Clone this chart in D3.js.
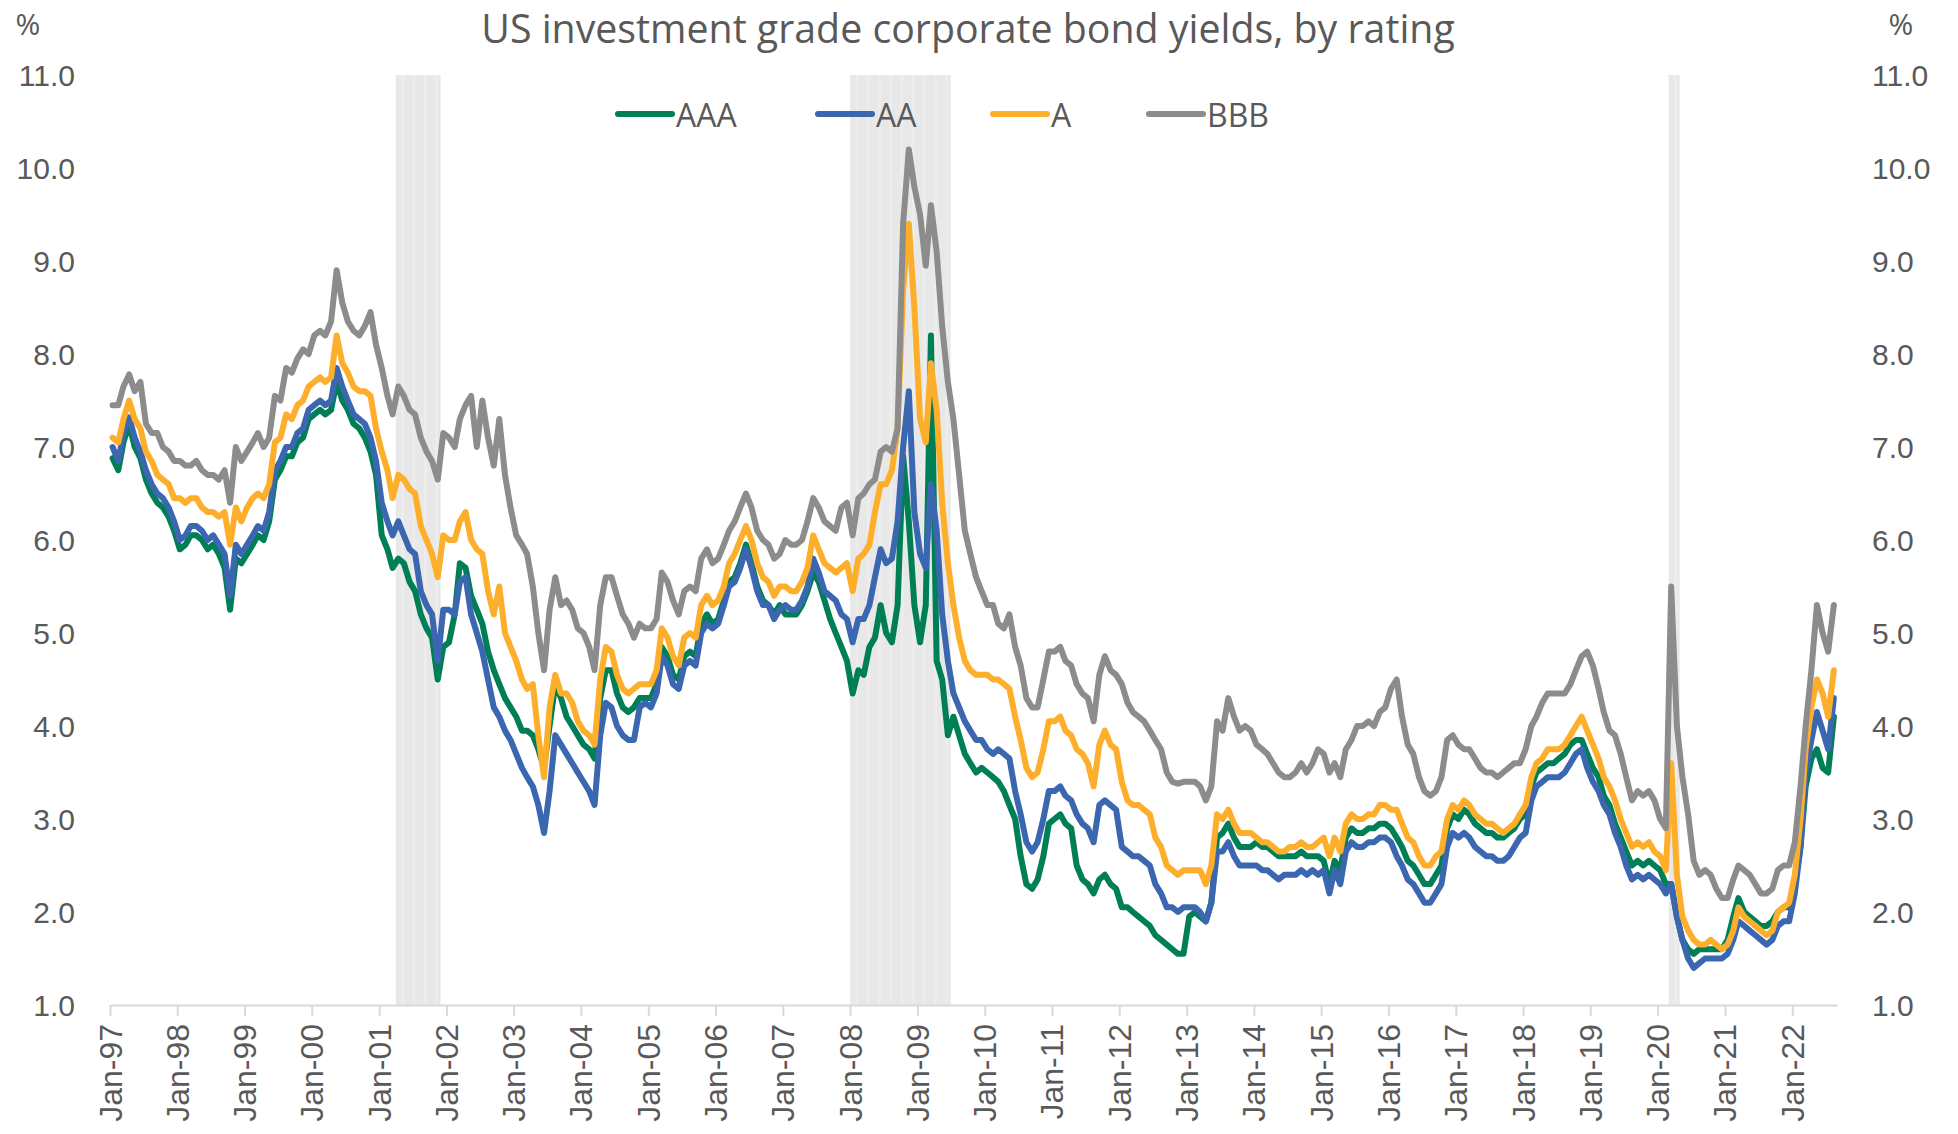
<!DOCTYPE html>
<html><head><meta charset="utf-8">
<script src="https://cdn.jsdelivr.net/npm/d3@7"></script>
<style>html,body{margin:0;padding:0;background:#fff;} svg{display:block;font-family:"Open Sans","Noto Sans",sans-serif;}</style>
</head><body><svg id="chart" width="1958" height="1134"></svg>
<script>
// ---------------- data ----------------
const titleText = "US investment grade corporate bond yields, by rating";
const firstMonth = "1997-01";           // monthly observations, Jan 1997 .. Aug 2022
const seriesNames = ["AAA", "AA", "A", "BBB"];
const yTicks = [1, 2, 3, 4, 5, 6, 7, 8, 9, 10, 11];
const xTickYears = [1997,1998,1999,2000,2001,2002,2003,2004,2005,2006,2007,2008,2009,2010,2011,2012,2013,2014,2015,2016,2017,2018,2019,2020,2021,2022];
const recessions = [["2001-04-01","2001-11-30"],["2008-01-01","2009-06-30"],["2020-03-01","2020-04-30"]];

const aaa = [
6.88,6.75,7.05,7.25,7.0,6.88,6.65,6.5,6.4,6.35,6.25,6.1,
5.9,5.95,6.05,6.05,6.0,5.9,5.95,5.85,5.7,5.25,5.8,5.75,
5.85,5.95,6.05,6.0,6.2,6.65,6.75,6.9,6.9,7.05,7.1,7.3,
7.35,7.4,7.35,7.4,7.7,7.5,7.4,7.25,7.2,7.1,6.95,6.7,
6.05,5.9,5.7,5.8,5.75,5.55,5.45,5.2,5.05,4.95,4.5,4.85,
4.9,5.2,5.75,5.7,5.4,5.25,5.1,4.8,4.6,4.45,4.3,4.2,
4.1,3.95,3.95,3.9,3.75,3.55,4.0,4.45,4.3,4.1,4.0,3.9,
3.8,3.75,3.65,4.3,4.6,4.6,4.35,4.2,4.15,4.2,4.3,4.3,
4.3,4.45,4.85,4.75,4.55,4.5,4.75,4.8,4.75,5.1,5.2,5.1,
5.15,5.35,5.55,5.6,5.75,5.95,5.75,5.5,5.35,5.3,5.2,5.3,
5.2,5.2,5.2,5.3,5.45,5.65,5.55,5.35,5.15,5.0,4.85,4.7,
4.35,4.6,4.55,4.85,4.95,5.3,5.0,4.9,5.3,6.9,6.2,5.3,
4.9,5.3,8.2,4.7,4.5,3.9,4.1,3.9,3.7,3.6,3.5,3.55,
3.5,3.45,3.4,3.3,3.15,3.0,2.6,2.3,2.25,2.35,2.6,2.95,
3.0,3.05,2.95,2.9,2.5,2.35,2.3,2.2,2.35,2.4,2.3,2.25,
2.05,2.05,2.0,1.95,1.9,1.85,1.75,1.7,1.65,1.6,1.55,1.55,
1.95,2.0,1.95,1.9,2.1,2.8,2.85,2.95,2.8,2.7,2.7,2.7,
2.75,2.7,2.7,2.65,2.6,2.6,2.6,2.6,2.65,2.6,2.6,2.6,
2.55,2.3,2.55,2.45,2.8,2.9,2.85,2.85,2.9,2.9,2.95,2.95,
2.9,2.8,2.7,2.55,2.5,2.4,2.3,2.3,2.4,2.5,2.9,3.05,
3.0,3.1,3.05,2.95,2.9,2.85,2.85,2.8,2.8,2.85,2.9,3.0,
3.05,3.35,3.5,3.55,3.6,3.6,3.65,3.7,3.8,3.85,3.85,3.7,
3.55,3.45,3.25,3.15,2.95,2.8,2.65,2.5,2.55,2.5,2.55,2.5,
2.45,2.3,2.3,1.95,1.7,1.6,1.55,1.6,1.6,1.6,1.6,1.6,
1.7,1.95,2.15,2.0,1.95,1.9,1.85,1.85,1.9,2.0,2.05,2.05,
2.3,2.7,3.35,3.65,3.75,3.55,3.5,4.1];

const aa = [
7.0,6.85,7.15,7.32,7.1,6.95,6.75,6.6,6.5,6.45,6.35,6.2,
6.0,6.05,6.15,6.15,6.1,6.0,6.05,5.95,5.85,5.4,5.95,5.85,
5.95,6.05,6.15,6.1,6.3,6.75,6.85,7.0,7.0,7.15,7.2,7.4,
7.45,7.5,7.45,7.5,7.85,7.65,7.5,7.35,7.3,7.25,7.1,6.85,
6.4,6.2,6.05,6.2,6.05,5.9,5.85,5.45,5.3,5.2,4.7,5.25,
5.25,5.2,5.55,5.6,5.2,5.0,4.8,4.5,4.2,4.1,3.95,3.85,
3.7,3.55,3.45,3.35,3.15,2.85,3.3,3.9,3.8,3.7,3.6,3.5,
3.4,3.3,3.15,3.9,4.25,4.2,4.0,3.9,3.85,3.85,4.2,4.25,
4.2,4.35,4.75,4.65,4.45,4.4,4.65,4.7,4.65,5.0,5.1,5.05,
5.1,5.3,5.5,5.55,5.7,5.9,5.7,5.45,5.3,5.3,5.15,5.25,
5.3,5.25,5.25,5.35,5.5,5.8,5.65,5.45,5.4,5.35,5.2,5.15,
4.9,5.15,5.15,5.3,5.6,5.9,5.75,5.8,6.2,7.0,7.6,6.3,
5.85,5.7,6.6,6.1,5.2,4.7,4.35,4.2,4.05,3.95,3.85,3.85,
3.75,3.7,3.75,3.7,3.65,3.3,3.05,2.75,2.65,2.75,3.0,3.3,
3.3,3.35,3.25,3.2,3.05,2.95,2.9,2.75,3.15,3.2,3.15,3.1,
2.7,2.65,2.6,2.6,2.55,2.5,2.3,2.2,2.05,2.05,2.0,2.05,
2.05,2.05,2.0,1.9,2.1,2.65,2.65,2.75,2.6,2.5,2.5,2.5,
2.5,2.45,2.45,2.4,2.35,2.4,2.4,2.4,2.45,2.4,2.45,2.4,
2.45,2.2,2.45,2.3,2.65,2.75,2.7,2.7,2.75,2.75,2.8,2.8,
2.75,2.6,2.5,2.35,2.3,2.2,2.1,2.1,2.2,2.3,2.7,2.85,
2.8,2.85,2.8,2.7,2.65,2.6,2.6,2.55,2.55,2.6,2.7,2.8,
2.85,3.2,3.35,3.4,3.45,3.45,3.45,3.5,3.6,3.7,3.75,3.55,
3.4,3.3,3.15,3.05,2.85,2.7,2.5,2.35,2.4,2.35,2.4,2.35,
2.3,2.2,2.3,1.95,1.7,1.5,1.4,1.45,1.5,1.5,1.5,1.5,
1.55,1.7,1.9,1.85,1.8,1.75,1.7,1.65,1.7,1.85,1.9,1.9,
2.2,2.7,3.5,3.85,4.15,3.95,3.75,4.3];

const singleA = [
7.1,7.05,7.3,7.5,7.3,7.2,6.95,6.85,6.7,6.65,6.6,6.45,
6.45,6.4,6.45,6.45,6.35,6.3,6.3,6.25,6.3,5.95,6.35,6.2,
6.35,6.45,6.5,6.45,6.6,7.05,7.1,7.35,7.3,7.45,7.5,7.65,
7.7,7.75,7.7,7.75,8.2,7.9,7.8,7.65,7.6,7.6,7.55,7.2,
6.95,6.75,6.45,6.7,6.65,6.55,6.5,6.15,6.0,5.85,5.6,6.05,
6.0,6.0,6.2,6.3,6.0,5.9,5.85,5.45,5.2,5.5,5.0,4.85,
4.7,4.5,4.4,4.45,3.9,3.45,4.2,4.55,4.35,4.35,4.25,4.05,
3.95,3.9,3.8,4.5,4.85,4.8,4.55,4.4,4.35,4.4,4.45,4.45,
4.45,4.6,5.05,4.95,4.75,4.65,4.95,5.0,4.95,5.3,5.4,5.3,
5.35,5.5,5.75,5.85,6.0,6.15,6.0,5.75,5.6,5.55,5.4,5.5,
5.5,5.45,5.45,5.55,5.7,6.05,5.9,5.75,5.7,5.65,5.7,5.75,
5.45,5.8,5.85,5.95,6.3,6.6,6.6,6.75,7.2,8.7,9.4,8.5,
7.3,7.05,7.9,7.4,6.4,5.75,5.3,4.95,4.7,4.6,4.55,4.55,
4.55,4.5,4.5,4.45,4.4,4.1,3.85,3.55,3.45,3.5,3.75,4.05,
4.05,4.1,3.95,3.9,3.75,3.7,3.6,3.35,3.8,3.95,3.8,3.75,
3.4,3.2,3.15,3.15,3.1,3.05,2.8,2.7,2.5,2.45,2.4,2.45,
2.45,2.45,2.45,2.3,2.5,3.05,3.0,3.1,2.95,2.85,2.85,2.85,
2.8,2.75,2.75,2.7,2.65,2.65,2.7,2.7,2.75,2.7,2.7,2.75,
2.8,2.6,2.8,2.65,2.95,3.05,3.0,3.0,3.05,3.05,3.15,3.15,
3.1,3.1,2.95,2.8,2.75,2.6,2.5,2.5,2.6,2.65,3.0,3.15,
3.1,3.2,3.15,3.05,3.0,2.95,2.95,2.9,2.85,2.9,2.95,3.05,
3.15,3.45,3.6,3.65,3.75,3.75,3.75,3.8,3.9,4.0,4.1,3.95,
3.8,3.65,3.45,3.35,3.2,3.0,2.85,2.7,2.75,2.7,2.75,2.65,
2.6,2.45,3.6,2.4,1.95,1.8,1.7,1.65,1.65,1.7,1.65,1.6,
1.65,1.8,2.05,1.95,1.9,1.85,1.8,1.75,1.8,2.0,2.05,2.1,
2.4,3.0,3.75,4.2,4.5,4.35,4.1,4.6];

const bbb = [
7.45,7.45,7.65,7.78,7.6,7.7,7.25,7.15,7.15,7.0,6.95,6.85,
6.85,6.8,6.8,6.85,6.75,6.7,6.7,6.65,6.75,6.4,7.0,6.85,
6.95,7.05,7.15,7.0,7.1,7.55,7.5,7.85,7.8,7.95,8.05,8.0,
8.2,8.25,8.2,8.35,8.9,8.55,8.35,8.25,8.2,8.3,8.45,8.1,
7.85,7.55,7.35,7.65,7.55,7.4,7.35,7.1,6.95,6.85,6.65,7.15,
7.1,7.0,7.3,7.45,7.55,7.0,7.5,7.1,6.8,7.3,6.7,6.35,
6.05,5.95,5.85,5.5,5.0,4.6,5.25,5.6,5.3,5.35,5.25,5.05,
5.0,4.85,4.6,5.3,5.6,5.6,5.4,5.2,5.1,4.95,5.1,5.05,
5.05,5.15,5.65,5.55,5.35,5.2,5.45,5.5,5.45,5.8,5.9,5.75,
5.8,5.95,6.1,6.2,6.35,6.5,6.35,6.1,6.0,5.95,5.8,5.85,
6.0,5.95,5.95,6.0,6.2,6.45,6.35,6.2,6.15,6.1,6.35,6.4,
6.05,6.45,6.5,6.6,6.65,6.95,7.0,6.95,7.2,9.4,10.2,9.8,
9.5,8.95,9.6,9.1,8.3,7.7,7.3,6.7,6.1,5.85,5.6,5.45,
5.3,5.3,5.1,5.05,5.2,4.85,4.65,4.3,4.2,4.2,4.5,4.8,
4.8,4.85,4.7,4.65,4.45,4.35,4.3,4.05,4.55,4.75,4.6,4.55,
4.45,4.25,4.15,4.1,4.05,3.95,3.85,3.75,3.5,3.4,3.38,3.4,
3.4,3.4,3.35,3.2,3.35,4.05,3.95,4.3,4.1,3.95,4.0,3.95,
3.8,3.75,3.7,3.6,3.5,3.45,3.45,3.5,3.6,3.5,3.6,3.75,
3.7,3.5,3.6,3.45,3.75,3.85,4.0,4.0,4.05,4.0,4.15,4.2,
4.4,4.5,4.1,3.8,3.7,3.45,3.3,3.25,3.3,3.45,3.85,3.9,
3.8,3.75,3.75,3.65,3.55,3.5,3.5,3.45,3.5,3.55,3.6,3.6,
3.75,4.0,4.1,4.25,4.35,4.35,4.35,4.35,4.45,4.6,4.75,4.8,
4.65,4.4,4.15,3.95,3.9,3.7,3.45,3.2,3.3,3.25,3.3,3.2,
3.0,2.9,5.5,4.0,3.45,3.05,2.55,2.4,2.45,2.4,2.25,2.15,
2.15,2.35,2.5,2.45,2.4,2.3,2.2,2.2,2.25,2.45,2.5,2.5,
2.75,3.35,4.0,4.6,5.3,5.0,4.8,5.3];

const seriesValues = [aaa, aa, singleA, bbb];
const seriesColors = ["#007F57", "#3B66B0", "#FDAF2C", "#8C8C8C"];

// ---------------- layout ----------------
const plot = {left: 110, right: 1837, top: 75, bottom: 1005};
const textColor = "#595959";
const svg = d3.select("#chart");

const parseDay = d3.utcParse("%Y-%m-%d");
const start = d3.utcParse("%Y-%m")(firstMonth);
const months = d3.range(aaa.length).map(i => d3.utcDay.offset(d3.utcMonth.offset(start, i), 14));

const x = d3.scaleUtc().domain([parseDay("1997-01-01"), parseDay("2022-09-01")]).range([plot.left, plot.right]);
const y = d3.scaleLinear().domain([1, 11]).range([plot.bottom, plot.top]);

// recession shading
const rec = svg.append("g");
recessions.forEach(r => {
  const x0 = x(parseDay(r[0])), x1 = x(parseDay(r[1]));
  rec.append("rect").attr("x", x0).attr("y", y(11)).attr("width", x1 - x0).attr("height", y(1) - y(11)).attr("fill", "#e8e8e8");
  d3.utcMonth.range(parseDay(r[0]), parseDay(r[1])).forEach((m, i) => {
    if (i % 2 === 1) {
      const a = x(m), b = x(d3.utcMonth.offset(m, 1));
      rec.append("rect").attr("x", a).attr("y", y(11)).attr("width", Math.max(0, (b - a) * 0.5)).attr("height", y(1) - y(11)).attr("fill", "#ededed");
    }
  });
});

// x axis
const xAxis = d3.axisBottom(x)
  .tickValues(xTickYears.map(yy => new Date(Date.UTC(yy, 0, 1))))
  .tickFormat(d3.utcFormat("Jan-%y"))
  .tickSize(11).tickSizeOuter(0);
const gx = svg.append("g").attr("transform", `translate(0,${plot.bottom})`).call(xAxis);
gx.select(".domain").attr("stroke", "#d9d9d9").attr("stroke-width", 2);
gx.selectAll(".tick line").attr("stroke", "#d9d9d9").attr("stroke-width", 2);
gx.selectAll(".tick text")
  .attr("fill", textColor).attr("font-size", 32)
  .attr("text-anchor", "end")
  .attr("dominant-baseline", "central")
  .attr("transform", "rotate(-90)")
  .attr("x", -19).attr("y", 0).attr("dy", null);

// y axes (labels only)
const yl = d3.axisLeft(y).tickValues(yTicks).tickFormat(d3.format(".1f")).tickSize(0);
const gyl = svg.append("g").attr("transform", `translate(75,0)`).call(yl);
gyl.select(".domain").remove();
gyl.selectAll(".tick text").attr("fill", textColor).attr("font-size", 30).attr("x", 0).attr("dy", null).attr("dominant-baseline", "central");

const yr = d3.axisRight(y).tickValues(yTicks).tickFormat(d3.format(".1f")).tickSize(0);
const gyr = svg.append("g").attr("transform", `translate(1872,0)`).call(yr);
gyr.select(".domain").remove();
gyr.selectAll(".tick text").attr("fill", textColor).attr("font-size", 30).attr("x", 0).attr("dy", null).attr("dominant-baseline", "central");

// lines
const line = d3.line().x((d, i) => x(months[i])).y(d => y(d));
seriesValues.forEach((vals, k) => {
  svg.append("path").datum(vals)
    .attr("d", line)
    .attr("fill", "none")
    .attr("stroke", seriesColors[k])
    .attr("stroke-width", 6)
    .attr("stroke-linejoin", "round")
    .attr("stroke-linecap", "round");
});

// title and unit labels
const title = svg.append("text").attr("x", 968).attr("y", 28).attr("text-anchor", "middle")
  .attr("dominant-baseline", "central").attr("fill", textColor).attr("font-size", 36).text(titleText);
const tw = title.node().getComputedTextLength();
title.attr("font-size", 36 * 974 / tw);

svg.append("text").attr("x", 28).attr("y", 23).attr("text-anchor", "middle").attr("dominant-baseline", "central")
  .attr("fill", textColor).attr("font-size", 30).text("%");
svg.append("text").attr("x", 1901).attr("y", 23).attr("text-anchor", "middle").attr("dominant-baseline", "central")
  .attr("fill", textColor).attr("font-size", 30).text("%");

// legend
const legendX = [618, 818, 993, 1149];
const legY = 114;
seriesNames.forEach((n, k) => {
  const g = svg.append("g");
  g.append("line").attr("x1", legendX[k]).attr("x2", legendX[k] + 54).attr("y1", legY).attr("y2", legY)
    .attr("stroke", seriesColors[k]).attr("stroke-width", 6).attr("stroke-linecap", "round");
  g.append("text").attr("x", legendX[k] + 58).attr("y", legY).attr("dominant-baseline", "central")
    .attr("fill", textColor).attr("font-size", 32).text(n);
});
</script></body></html>
